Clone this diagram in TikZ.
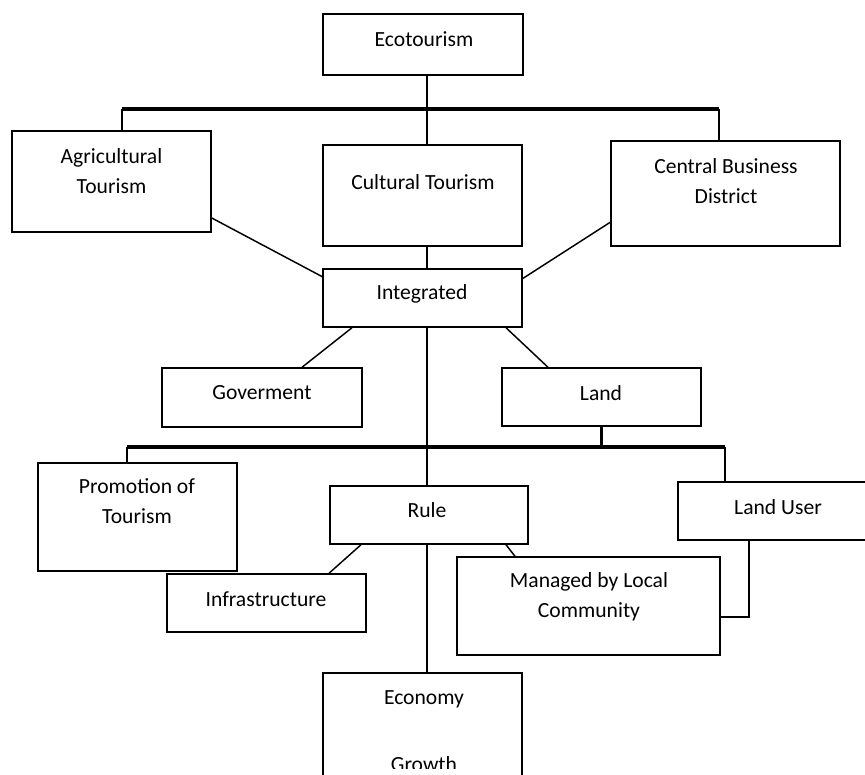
\documentclass[tikz,border=0pt]{standalone}
\usepackage{fontspec}
\setmainfont{Carlito}
\usetikzlibrary{positioning,calc}
\tikzset{
  box/.style={draw, line width=1.1pt, rectangle, inner sep=0pt},
  sz/.style 2 args={minimum width=#1*0.75pt, minimum height=#2*0.75pt},
  lbl/.style={align=center, inner sep=0pt, font=\fontsize{16.2}{22.5}\selectfont},
  conn/.style={line width=1.1pt},
  bar/.style={line width=2.6pt},
}

\begin{document}
\begin{tikzpicture}[x=0.75pt, y=-0.75pt, line join=miter]
  \useasboundingbox (0,0) rectangle (865,775);
  \clip (0,0) rectangle (865,775);

  % Boxes
  \node[box, sz={200}{61}]  (eco)   at (423,44.5)  {};
  \node[box, sz={199}{101}] (agri)  at (111.5,181.5) {};
  \node[box, sz={199}{101}] (cult)  at (422.5,195.5) {};
  \node[box, sz={229}{105}] (cbd)   at (725.5,193.5) {};
  \node[box, sz={199}{58}]  (integ) at (422.5,298) {};
  \node[box, sz={200}{59}]  (gov)   at (262,397.5) {};
  \node[box, sz={199}{58}]  (land)  at (601.5,397) {};
  \node[box, sz={199}{108}] (promo) at (137.5,517) {};
  \node[box, sz={198}{58}]  (rule)  at (429,515) {};
  \node[box, sz={199}{58}]  (infra) at (266.5,603) {};
  \node[box, sz={263}{98}]  (manag) at (588.5,606) {};
  \node[box, sz={200}{58}]  (luser) at (778,511) {};
  \node[box, sz={199}{130}] (econ)  at (422.5,738) {};

  % Texts
  \node[lbl] (eco-t)   at (424,39)    {Ecotourism};
  \node[lbl] (agri-t)  at (111.5,171) {Agricultural\\Tourism};
  \node[lbl] (cult-t)  at (423,182)   {Cultural Tourism};
  \node[lbl] (cbd-t)   at (726,181.5) {Central Business\\District};
  \node[lbl] (integ-t) at (422,294)   {Integrated};
  \node[lbl] (gov-t)   at (262,393)   {Goverment};
  \node[lbl] (land-t)  at (601,393)   {Land};
  \node[lbl] (promo-t) at (137,501.5) {Promotion of\\Tourism};
  \node[lbl] (rule-t)  at (427,510)   {Rule};
  \node[lbl] (infra-t) at (266,599)   {Infrastructure};
  \node[lbl] (manag-t) at (589,596.5) {Managed by Local\\Community};
  \node[lbl] (luser-t) at (778,507)   {Land User};
  \node[lbl, anchor=base] (econ-t) at (424,704) {Economy};
  \begin{scope}
    \clip (300,740) rectangle (550,768);
    \node[lbl, anchor=base] (growth-t) at (424,771) {Growth};
  \end{scope}

  % Bars and junctions
  \coordinate (trunk) at (427,109);
  \coordinate (bar1l) at (122,109);
  \coordinate (bar1r) at (719,109);
  \coordinate (bar2l) at (127,447);
  \coordinate (bar2r) at (725,447);

  \draw[bar] (bar1l) -- (bar1r);
  \draw[bar] (bar2l) -- (bar2r);

  % Connectors
  \draw[conn] (eco.south -| trunk) -- (cult.north -| trunk);
  \draw[conn] (bar1l) -- (bar1l |- agri.north);
  \draw[conn] (bar1r) -- (bar1r |- cbd.north);
  \draw[conn] (cult.south -| trunk) -- (integ.north -| trunk);
  \draw[conn] (agri.-20.6) -- (integ.168);
  \draw[conn] (cbd.194) -- (integ.11);
  \draw[conn] ($(integ.south)+(-70.5,0)$) -- ($(gov.north)+(40,0)$);
  \draw[conn] ($(integ.south)+(83.5,0)$) -- ($(land.north)+(-53.5,0)$);
  \draw[conn] (integ.south -| trunk) -- (rule.north -| trunk);
  \draw[bar] ($(gov.south)+(-14,0)$) -- ($(gov.south)+(-14,0)$ |- bar2l);
  \draw[bar] (land.south) -- (land.south |- bar2r);
  \draw[conn] (bar2l) -- (bar2l |- promo.north);
  \draw[conn] (bar2r) -- (bar2r |- luser.north);
  \draw[conn] ($(rule.south)+(-68,0)$) -- ($(infra.north)+(62.5,0)$);
  \draw[conn] ($(rule.south)+(77,0)$) -- ($(manag.north)+(-73.5,0)$);
  \draw[conn] ($(luser.south)+(-29,0)$) |- ($(manag.east)+(0,11)$);
  \draw[conn] (rule.south -| trunk) -- (econ.north -| trunk);
\end{tikzpicture}
\end{document}
